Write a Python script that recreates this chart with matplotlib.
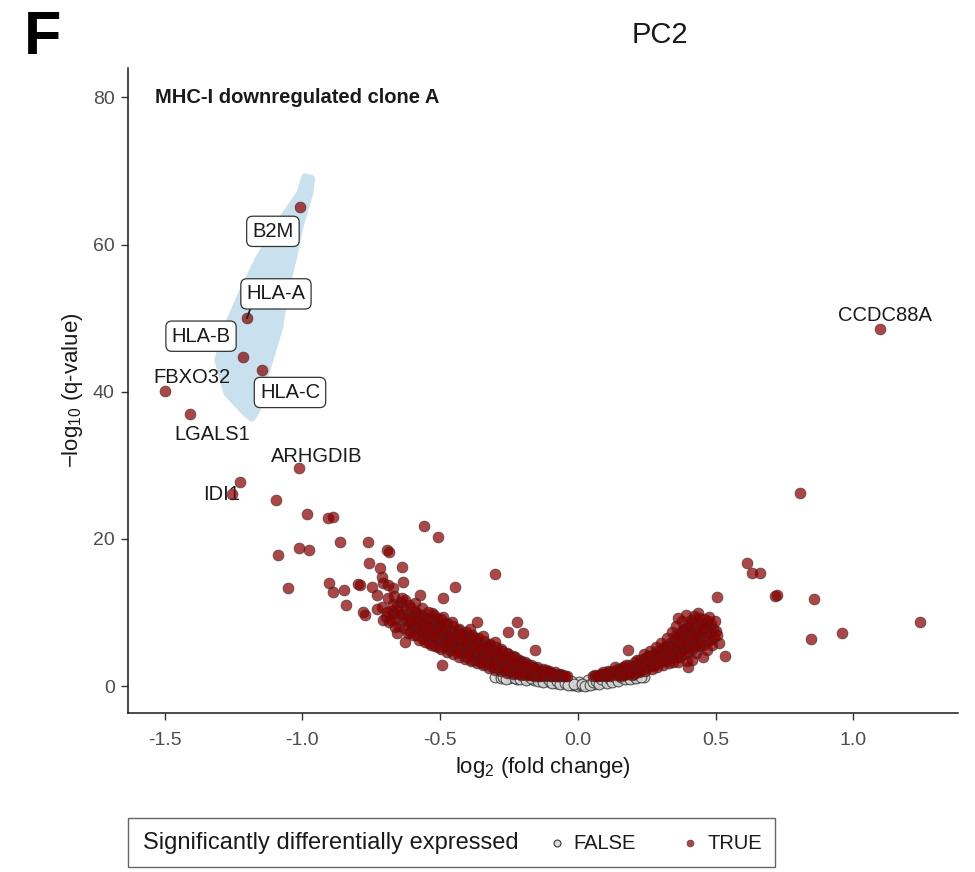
import matplotlib
matplotlib.use("Agg")
import matplotlib.pyplot as plt
from matplotlib.lines import Line2D
from matplotlib.patches import Polygon, Rectangle

plt.rcParams['font.family'] = ['Liberation Sans', 'DejaVu Sans']
plt.rcParams['mathtext.default'] = 'regular'

# labelled genes (log2 fold change, -log10 q)
label_genes = ['B2M', 'HLA-A', 'HLA-B', 'HLA-C', 'FBXO32', 'LGALS1', 'ARHGDIB', 'IDI1', 'CCDC88A']
label_logfc = [-1.009, -1.201, -1.216, -1.147, -1.499, -1.408, -1.013, -1.256, 1.096]
label_logq = [65.1, 50.0, 44.7, 42.9, 40.1, 37.0, 29.6, 26.1, 48.5]
boxed_genes = ['B2M', 'HLA-A', 'HLA-B', 'HLA-C']

# other significant genes
left_outliers = [
    (-1.227, 27.7), (-1.096, 25.3), (-0.984, 23.4), (-0.907, 22.8), (-0.889, 23.0),
    (-0.559, 21.7), (-0.508, 20.2), (-1.089, 17.8), (-1.013, 18.75), (-0.976, 18.5),
    (-0.864, 19.6), (-0.762, 19.6), (-0.693, 18.5), (-0.686, 18.2), (-0.759, 16.7),
    (-0.639, 16.2), (-0.301, 15.2), (-1.053, 13.3), (-0.904, 14.0), (-0.889, 12.8),
    (-0.849, 13.0), (-0.799, 13.9), (-0.791, 13.7), (-0.748, 13.5), (-0.730, 12.4),
    (-0.719, 16.0), (-0.711, 14.8), (-0.708, 14.0), (-0.690, 13.7), (-0.672, 13.3),
    (-0.635, 14.1), (-0.573, 12.4), (-0.490, 12.0), (-0.446, 13.5), (-0.842, 11.0),
    (-0.780, 10.05), (-0.773, 9.65), (-0.730, 10.5), (-0.708, 9.0), (-0.672, 9.9),
    (-0.657, 7.2), (-0.628, 6.0), (-0.494, 2.85), (-0.367, 8.7), (-0.254, 7.3),
    (-0.221, 8.7), (-0.200, 7.2), (-0.156, 4.9),
]

left_band = [
    (-0.712, 10.8), (-0.698, 9.4), (-0.691, 11.9), (-0.684, 8.7), (-0.676, 10.2),
    (-0.668, 12.3), (-0.661, 9.1), (-0.655, 10.9), (-0.649, 8.2), (-0.643, 11.4),
    (-0.637, 9.8), (-0.631, 7.9), (-0.626, 10.4), (-0.619, 8.8), (-0.614, 11.0),
    (-0.608, 7.4), (-0.603, 9.5), (-0.597, 8.3), (-0.592, 10.1), (-0.586, 6.9),
    (-0.581, 8.9), (-0.575, 7.7), (-0.570, 9.7), (-0.564, 6.4), (-0.559, 8.4),
    (-0.553, 7.3), (-0.548, 9.2), (-0.542, 5.9), (-0.537, 7.9), (-0.531, 6.8),
    (-0.526, 8.7), (-0.520, 5.5), (-0.515, 7.4), (-0.509, 6.3), (-0.504, 8.3),
    (-0.498, 5.0), (-0.493, 7.0), (-0.487, 6.0), (-0.482, 7.9), (-0.476, 4.6),
    (-0.471, 6.6), (-0.465, 5.6), (-0.460, 7.5), (-0.454, 4.3), (-0.449, 6.2),
    (-0.443, 5.3), (-0.438, 7.1), (-0.432, 4.0), (-0.427, 5.9), (-0.421, 4.9),
    (-0.416, 6.7), (-0.410, 3.7), (-0.405, 5.5), (-0.399, 4.6), (-0.394, 6.3),
    (-0.388, 3.4), (-0.383, 5.2), (-0.377, 4.2), (-0.372, 5.9), (-0.366, 3.1),
    (-0.361, 4.8), (-0.355, 3.9), (-0.350, 5.5), (-0.344, 2.8), (-0.339, 4.5),
    (-0.333, 3.6), (-0.328, 5.1), (-0.322, 2.5), (-0.317, 4.1), (-0.311, 3.3),
    (-0.306, 4.7), (-0.300, 2.2), (-0.295, 3.8), (-0.289, 3.0), (-0.284, 4.3),
    (-0.278, 2.0), (-0.273, 3.4), (-0.267, 2.7), (-0.262, 3.9), (-0.256, 1.8),
    (-0.251, 3.1), (-0.245, 2.4), (-0.240, 3.6), (-0.234, 1.7), (-0.229, 2.8),
    (-0.223, 2.2), (-0.218, 3.2), (-0.212, 1.6), (-0.207, 2.5), (-0.201, 2.0),
    (-0.196, 2.9), (-0.190, 1.5), (-0.185, 2.3), (-0.179, 1.8), (-0.174, 2.6),
    (-0.168, 1.45), (-0.163, 2.1), (-0.157, 1.7), (-0.152, 2.3), (-0.146, 1.4),
    (-0.141, 1.9), (-0.135, 1.6), (-0.130, 2.1), (-0.124, 1.4), (-0.119, 1.75),
    (-0.113, 1.5), (-0.108, 1.9), (-0.102, 1.38), (-0.097, 1.6), (-0.091, 1.45),
    (-0.086, 1.7), (-0.080, 1.35), (-0.075, 1.5), (-0.069, 1.4), (-0.062, 1.55),
    (-0.055, 1.36),
    (-0.590, 11.3), (-0.566, 10.6), (-0.544, 10.0), (-0.521, 9.6), (-0.497, 9.1),
    (-0.475, 8.6), (-0.452, 8.2), (-0.430, 7.8), (-0.407, 7.4), (-0.385, 6.9),
    (-0.362, 6.5), (-0.340, 6.1), (-0.318, 5.7), (-0.296, 5.3), (-0.274, 4.8),
    (-0.252, 4.4), (-0.229, 3.9), (-0.207, 3.4), (-0.185, 3.0), (-0.163, 2.6),
    (-0.611, 9.0), (-0.589, 8.0), (-0.568, 8.6), (-0.546, 6.9), (-0.524, 7.7),
    (-0.502, 6.6), (-0.480, 7.0), (-0.458, 5.9), (-0.436, 6.3), (-0.414, 5.2),
    (-0.392, 5.7), (-0.370, 4.6), (-0.348, 5.0), (-0.326, 4.0), (-0.304, 4.4),
    (-0.282, 3.5), (-0.260, 3.7), (-0.238, 2.9), (-0.216, 2.9), (-0.194, 2.4),
    (-0.172, 2.0), (-0.150, 1.85), (-0.128, 1.7),
    (-0.693, 10.1), (-0.672, 11.1), (-0.664, 8.0), (-0.646, 9.6), (-0.639, 12.0),
    (-0.622, 9.2), (-0.617, 7.2), (-0.605, 10.6), (-0.598, 7.0), (-0.583, 9.9),
    (-0.578, 6.3), (-0.572, 8.1), (-0.561, 9.3), (-0.556, 6.0), (-0.551, 7.8),
    (-0.539, 8.9), (-0.534, 5.6), (-0.528, 9.9), (-0.518, 6.7), (-0.512, 8.0),
    (-0.506, 5.3), (-0.495, 7.6), (-0.490, 9.4), (-0.484, 5.4), (-0.478, 6.3),
    (-0.468, 7.2), (-0.463, 4.9), (-0.457, 8.7), (-0.447, 5.0), (-0.441, 6.0),
    (-0.434, 7.6), (-0.425, 4.5), (-0.419, 6.1), (-0.412, 7.0), (-0.403, 4.0),
    (-0.397, 5.3), (-0.390, 7.7), (-0.381, 3.6), (-0.375, 5.5), (-0.368, 6.2),
    (-0.359, 3.4), (-0.353, 4.4), (-0.346, 6.8), (-0.337, 3.0), (-0.331, 4.3),
    (-0.324, 5.6), (-0.315, 2.7), (-0.309, 3.7), (-0.302, 6.0), (-0.293, 2.4),
    (-0.287, 3.6), (-0.280, 5.0), (-0.271, 2.3), (-0.265, 3.2), (-0.258, 4.5),
    (-0.249, 1.9), (-0.243, 2.9), (-0.236, 4.1), (-0.227, 1.8), (-0.221, 2.6),
    (-0.214, 3.6), (-0.205, 1.55), (-0.199, 2.6), (-0.192, 3.3), (-0.183, 1.6),
    (-0.177, 2.1), (-0.170, 2.9), (-0.161, 1.4), (-0.155, 2.0), (-0.148, 2.6),
    (-0.139, 1.35), (-0.133, 1.8), (-0.126, 2.3), (-0.117, 1.45), (-0.111, 1.7),
    (-0.104, 2.1), (-0.095, 1.35), (-0.089, 1.55), (-0.083, 1.9), (-0.073, 1.4),
    (-0.066, 1.65), (-0.058, 1.45), (-0.047, 1.38), (-0.041, 1.33),
    (-0.680, 9.0), (-0.652, 10.3), (-0.628, 11.7), (-0.610, 8.5), (-0.594, 9.0),
    (-0.566, 7.4), (-0.545, 8.2), (-0.529, 7.1), (-0.510, 9.2), (-0.500, 7.8),
    (-0.486, 8.6), (-0.470, 5.8), (-0.455, 6.6), (-0.440, 4.6), (-0.424, 6.9),
    (-0.409, 6.0), (-0.396, 4.3), (-0.379, 6.6), (-0.364, 5.3), (-0.352, 3.3),
    (-0.335, 5.4), (-0.320, 4.7), (-0.308, 2.9), (-0.291, 4.8), (-0.276, 4.0),
    (-0.264, 2.2), (-0.247, 3.9), (-0.232, 3.4), (-0.219, 1.9), (-0.203, 3.0),
    (-0.188, 2.7), (-0.176, 1.5), (-0.159, 2.5), (-0.144, 2.1), (-0.131, 1.5),
    (-0.115, 2.2), (-0.098, 1.8),
]

right_band = [
    (0.055, 1.35), (0.068, 1.42), (0.079, 1.55), (0.088, 1.38), (0.097, 1.7),
    (0.106, 1.48), (0.114, 1.9), (0.122, 1.6), (0.129, 2.1), (0.137, 1.75),
    (0.144, 2.35), (0.151, 1.5), (0.158, 2.0), (0.165, 2.6), (0.172, 1.7),
    (0.179, 2.25), (0.186, 2.9), (0.193, 1.9), (0.199, 2.5), (0.206, 3.2),
    (0.212, 2.1), (0.218, 2.8), (0.224, 3.5), (0.230, 2.3), (0.236, 3.0),
    (0.242, 3.8), (0.248, 2.5), (0.254, 3.3), (0.259, 4.1), (0.265, 2.7),
    (0.270, 3.6), (0.276, 4.4), (0.281, 2.9), (0.286, 3.9), (0.291, 4.8),
    (0.296, 3.2), (0.301, 4.2), (0.306, 5.1), (0.311, 3.4), (0.316, 4.5),
    (0.321, 5.5), (0.326, 3.7), (0.331, 4.8), (0.336, 5.9), (0.340, 4.0),
    (0.345, 5.2), (0.349, 6.3), (0.354, 4.3), (0.358, 5.5), (0.362, 6.8),
    (0.367, 4.6), (0.371, 5.9), (0.375, 7.3), (0.379, 4.9), (0.383, 6.3),
    (0.387, 7.8), (0.391, 5.2), (0.395, 6.7), (0.399, 8.4), (0.403, 5.6),
    (0.407, 7.1), (0.411, 9.0), (0.415, 6.0), (0.419, 7.6), (0.423, 9.5),
    (0.427, 6.4), (0.431, 8.1), (0.436, 9.9), (0.441, 6.9), (0.446, 8.6),
    (0.452, 7.4), (0.458, 9.1), (0.464, 7.9), (0.471, 8.8), (0.478, 7.2),
    (0.485, 8.4), (0.493, 6.6), (0.501, 7.5), (0.512, 5.8), (0.534, 4.1),
    (0.454, 3.9), (0.400, 2.6), (0.181, 4.9), (0.134, 2.6), (0.091, 1.9),
    (0.365, 9.3), (0.378, 8.9), (0.393, 9.7), (0.355, 8.2), (0.372, 3.9),
    (0.427, 4.5), (0.444, 5.4), (0.472, 6.1), (0.341, 7.4), (0.322, 6.5),
    (0.302, 5.9), (0.283, 5.3), (0.262, 4.7), (0.241, 4.3), (0.222, 1.9),
    (0.197, 1.45),
    (0.062, 1.5), (0.074, 1.33), (0.084, 1.7), (0.101, 1.35), (0.110, 2.0),
    (0.118, 1.4), (0.126, 1.8), (0.140, 1.45), (0.147, 2.2), (0.155, 1.35),
    (0.162, 2.4), (0.169, 1.5), (0.176, 2.8), (0.183, 1.6), (0.190, 2.4),
    (0.202, 1.7), (0.209, 2.7), (0.215, 3.5), (0.227, 2.0), (0.233, 2.7),
    (0.239, 3.4), (0.245, 2.1), (0.251, 4.0), (0.257, 2.9), (0.268, 2.3),
    (0.273, 4.2), (0.279, 3.2), (0.289, 2.6), (0.294, 4.5), (0.299, 3.6),
    (0.309, 2.8), (0.314, 5.3), (0.319, 3.9), (0.329, 3.1), (0.334, 5.2),
    (0.338, 4.4), (0.347, 3.3), (0.352, 5.8), (0.357, 7.0), (0.361, 4.0),
    (0.369, 6.5), (0.374, 5.2), (0.381, 7.6), (0.385, 4.3), (0.389, 6.0),
    (0.397, 7.3), (0.401, 4.6), (0.405, 8.0), (0.409, 6.4), (0.413, 5.1),
    (0.417, 8.7), (0.421, 6.8), (0.425, 5.4), (0.433, 7.4), (0.438, 9.2),
    (0.443, 6.0), (0.449, 7.9), (0.455, 5.6), (0.461, 8.4), (0.467, 7.0),
    (0.475, 9.4), (0.482, 6.4), (0.489, 7.8), (0.497, 8.9), (0.506, 6.9),
    (0.470, 4.9), (0.488, 5.6), (0.415, 3.6), (0.395, 3.4), (0.364, 3.2),
]

right_outliers = [
    (0.505, 12.1), (0.613, 16.7), (0.632, 15.4), (0.661, 15.4), (0.715, 12.3),
    (0.722, 12.4), (0.857, 11.8), (1.241, 8.7), (0.958, 7.2), (0.846, 6.4),
    (0.806, 26.2),
]

# not significant genes
not_significant = [
    (-0.300, 1.2), (-0.280, 1.1), (-0.250, 1.15), (-0.240, 1.25), (-0.220, 1.0),
    (-0.200, 1.1), (-0.180, 0.9), (-0.160, 0.85), (-0.150, 1.0), (-0.130, 0.7),
    (-0.120, 0.9), (-0.110, 1.2), (-0.100, 0.6), (-0.090, 0.8), (-0.080, 0.45),
    (-0.070, 0.6), (-0.060, 0.35), (-0.050, 0.5), (-0.050, 1.0), (-0.040, 0.25),
    (-0.030, 0.3), (-0.020, 0.12), (-0.010, 0.15), (0.000, 0.05), (0.005, 0.6),
    (0.010, 0.1), (0.020, 0.12), (0.030, 0.2), (0.040, 0.25), (0.050, 0.35),
    (0.060, 0.3), (0.060, 1.1), (0.070, 0.45), (0.080, 0.5), (0.090, 0.6),
    (0.100, 0.65), (0.110, 0.75), (0.120, 0.8), (0.130, 0.9), (0.140, 0.95),
    (0.150, 1.0), (0.160, 1.05), (0.180, 1.1), (0.200, 1.15), (0.220, 1.2),
    (0.240, 1.25), (-0.190, 1.2), (-0.140, 1.1), (-0.085, 0.95), (-0.025, 0.7),
    (0.035, 0.85), (0.095, 1.15),
    (-0.270, 1.25), (-0.260, 1.0), (-0.230, 1.1), (-0.210, 0.95), (-0.190, 0.8),
    (-0.170, 1.05), (-0.145, 0.75), (-0.125, 0.6), (-0.105, 0.85), (-0.095, 0.45),
    (-0.075, 0.7), (-0.065, 0.25), (-0.045, 0.4), (-0.035, 0.15), (-0.015, 0.3),
    (0.015, 0.25), (0.025, 0.05), (0.045, 0.15), (0.055, 0.5), (0.065, 0.7),
    (0.075, 0.3), (0.085, 0.9), (0.105, 0.45), (0.115, 1.0), (0.125, 0.6),
    (0.135, 1.2), (0.145, 0.7), (0.155, 1.25), (0.170, 0.9), (0.190, 1.0),
    (0.210, 1.05), (0.230, 1.25),
]

# highlighted MHC-I region (outline)
hull_logfc = [-0.966, -0.973, -1.009, -1.034, -1.064, -1.082, -1.118, -1.154, -1.165,
              -1.183, -1.209, -1.274, -1.307, -1.274, -1.220, -1.162, -1.093, -1.009, -0.991]
hull_logq = [69.0, 67.0, 62.4, 57.9, 53.4, 48.8, 44.3, 39.8, 37.5,
             36.4, 37.2, 39.8, 44.3, 48.8, 53.4, 57.9, 62.4, 67.0, 69.2]

fig = plt.figure(figsize=(9.75, 8.72), dpi=100)
ax = fig.add_axes([0.1313, 0.1823, 0.8513, 0.7397])

ax.add_patch(Polygon(list(zip(hull_logfc, hull_logq)), closed=True, fc='#c9e1ee',
                     ec='#c9e1ee', lw=5, joinstyle='round', zorder=1))

nx, ny = zip(*not_significant)
ax.scatter(nx, ny, s=60, facecolor='#d9d9d9', edgecolors='#3a3a3a', linewidths=0.8,
           alpha=0.85, zorder=2)

sig = left_outliers + left_band + right_band + right_outliers
sx, sy = zip(*sig)
sx = list(sx) + label_logfc
sy = list(sy) + label_logq
ax.scatter(sx, sy, s=62, facecolor='#8b0000', edgecolors='#3a2a2a', linewidths=0.5,
           alpha=0.72, zorder=3)

# label placement (offset from point, in data units)
offsets = {
    'B2M': (-0.098, -3.3), 'HLA-A': (0.105, 3.3), 'HLA-B': (-0.152, 2.85),
    'HLA-C': (0.102, -3.0), 'FBXO32': (0.098, 1.9), 'LGALS1': (0.08, -2.8),
    'ARHGDIB': (0.066, 1.65), 'CCDC88A': (0.018, 1.8),
}
lab_size = 14.5
for g, x, y in zip(label_genes, label_logfc, label_logq):
    if g == 'IDI1':
        # label sits under its own point, as in the figure
        ax.text(x + 0.028, y, g, ha='right', va='center', fontsize=lab_size,
                color='#1a1a1a', zorder=2)
        continue
    dx, dy = offsets[g]
    if g in boxed_genes:
        ax.text(x + dx, y + dy, g, ha='center', va='center', fontsize=lab_size,
                color='#1a1a1a', zorder=5,
                bbox=dict(boxstyle='round,pad=0.28,rounding_size=0.3',
                          fc='white', ec='#333333', lw=0.9))
    else:
        ax.text(x + dx, y + dy, g, ha='center', va='center', fontsize=lab_size,
                color='#1a1a1a', zorder=5)
# short segment for HLA-A
ax.plot([label_logfc[1], label_logfc[1] + 0.012], [label_logq[1], label_logq[1] + 1.3],
        color='#1a1a1a', lw=1.2, zorder=4)

ax.set_xlim(-1.633, 1.38)
ax.set_ylim(-3.67, 84)
ax.set_xticks([-1.5, -1.0, -0.5, 0.0, 0.5, 1.0])
ax.set_xticklabels(['-1.5', '-1.0', '-0.5', '0.0', '0.5', '1.0'])
ax.set_yticks([0, 20, 40, 60, 80])
ax.tick_params(labelsize=14, length=5, width=1, color='#333333', labelcolor='#4d4d4d')
ax.tick_params(axis='x', pad=9)
ax.tick_params(axis='y', pad=4.5)
for side in ['top', 'right']:
    ax.spines[side].set_visible(False)
for side in ['left', 'bottom']:
    ax.spines[side].set_linewidth(1.1)
    ax.spines[side].set_color('#1a1a1a')

ax.set_xlabel('log$_2$ (fold change)', fontsize=16, color='#1a1a1a', labelpad=4)
ax.set_ylabel('\u2212log$_{10}$ (q-value)', fontsize=16, color='#1a1a1a', labelpad=6)

ax.text(0.032, 80, 'MHC-I downregulated clone A', transform=ax.get_yaxis_transform(),
        fontsize=14.5, fontweight='bold', va='center', ha='left', color='#1a1a1a')

fig.text(24 / 975, 1 - 38 / 872, 'F', fontsize=44, fontweight='bold', va='center', ha='left')
fig.text(660 / 975, 1 - 35 / 872, 'PC2', fontsize=21, va='center', ha='center', color='#1a1a1a')

# legend
fig.add_artist(Rectangle((128 / 975, 5 / 872), 647 / 975, 49 / 872, transform=fig.transFigure,
                         fc='white', ec='#666666', lw=1))
ly = 1 - 843 / 872
fig.text(143 / 975, ly, 'Significantly differentially expressed', fontsize=17, va='center',
         ha='left', color='#1a1a1a')
fig.add_artist(Line2D([557 / 975], [ly], transform=fig.transFigure, marker='o', ms=5,
                      mfc='#d9d9d9', mec='#3a3a3a', mew=0.8, ls='none'))
fig.text(573 / 975, ly, 'FALSE', fontsize=14.5, va='center', ha='left', color='#1a1a1a')
fig.add_artist(Line2D([690 / 975], [ly], transform=fig.transFigure, marker='o', ms=5,
                      mfc='#8b0000', mec='#3a2a2a', mew=0.5, alpha=0.72, ls='none'))
fig.text(708 / 975, ly, 'TRUE', fontsize=14.5, va='center', ha='left', color='#1a1a1a')

fig.savefig('out.png', dpi=100)
